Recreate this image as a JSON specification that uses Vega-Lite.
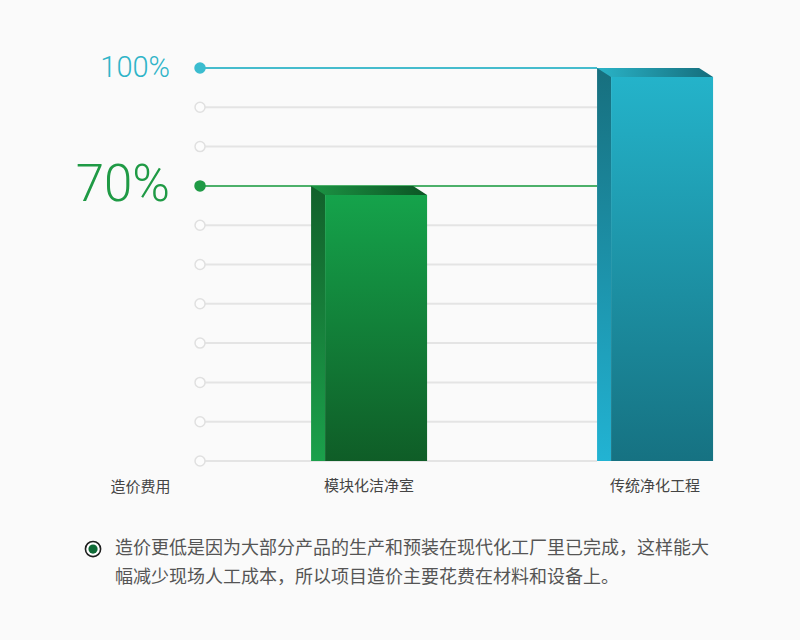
{
  "$schema": "https://vega.github.io/schema/vega-lite/v6.json",
  "autosize": "none",
  "width": 600,
  "height": 393,
  "padding": {"left": 200, "top": 68, "right": 0, "bottom": 179},
  "background": "#fafafa",
  "config": {"view": {"stroke": null}, "font": "Noto Sans CJK SC"},
  "datasets": {
    "bars": [
      {"cat": "模块化洁净室", "v": 70},
      {"cat": "传统净化工程", "v": 100}
    ],
    "ticks": [
      {"v": 0}, {"v": 10}, {"v": 20}, {"v": 30}, {"v": 40}, {"v": 50},
      {"v": 60}, {"v": 70}, {"v": 80}, {"v": 90}, {"v": 100}
    ],
    "labels": [
      {"v": 70, "label": "70%"},
      {"v": 100, "label": "100%"}
    ],
    "note": [
      {"t": "造价更低是因为大部分产品的生产和预装在现代化工厂里已完成，这样能大\n幅减少现场人工成本，所以项目造价主要花费在材料和设备上。"}
    ]
  },
  "encoding": {
    "y": {
      "type": "quantitative",
      "scale": {"domain": [0, 100], "nice": false, "zero": false},
      "axis": {
        "title": "造价费用", "titleAngle": 0, "titleX": -60, "titleY": 418,
        "titleAlign": "center", "titleBaseline": "middle", "titleFontSize": 15,
        "titleFontWeight": "normal", "titleColor": "#444444",
        "labels": false, "ticks": false, "domain": false, "grid": false
      }
    }
  },
  "layer": [
    {
      "data": {"name": "ticks"},
      "mark": {"type": "rule", "strokeWidth": 2},
      "encoding": {
        "x": {"datum": "模块化洁净室", "bandPosition": -0.956, "type": "nominal",
          "scale": {"type": "band", "domain": ["模块化洁净室", "传统净化工程"], "paddingInner": 0.594, "paddingOuter": 0.346, "align": 0.561},
          "axis": {"title": null, "domain": false, "ticks": false, "tickSize": 0, "labelPadding": 17, "labelFontSize": 15, "labelColor": "#444444", "labelAngle": 0, "grid": false}},
        "x2": {"datum": "传统净化工程", "bandPosition": 0},
        "y": {"field": "v"},
        "color": {
          "condition": [
            {"test": "datum.v === 100", "value": "#45bccd"},
            {"test": "datum.v === 70", "value": "#4cb06a"}
          ],
          "value": "#e4e4e4"
        }
      }
    },
    {
      "data": {"name": "ticks"},
      "mark": {"type": "point", "filled": false, "size": 100, "strokeWidth": 1.5, "opacity": 1},
      "encoding": {
        "x": {"datum": "模块化洁净室", "bandPosition": -0.956, "type": "nominal"},
        "y": {"field": "v"},
        "fill": {
          "condition": [
            {"test": "datum.v === 100", "value": "#3bbccf"},
            {"test": "datum.v === 70", "value": "#1f9a45"}
          ],
          "value": "#fcfcfc"
        },
        "stroke": {
          "condition": [
            {"test": "datum.v === 100", "value": "#3bbccf"},
            {"test": "datum.v === 70", "value": "#1f9a45"}
          ],
          "value": "#e0e0e0"
        }
      }
    },
    {
      "data": {"name": "labels"},
      "mark": {"type": "text", "align": "right", "baseline": "middle", "dx": -30, "font": "Roboto", "fontWeight": 300},
      "encoding": {
        "x": {"datum": "模块化洁净室", "bandPosition": -0.956, "type": "nominal"},
        "y": {"field": "v"},
        "text": {"field": "label"},
        "size": {"condition": {"test": "datum.v === 70", "value": 51}, "value": 29},
        "color": {"condition": {"test": "datum.v === 70", "value": "#1f9a45"}, "value": "#2fb4c8"}
      }
    },
    {
      "data": {"name": "bars"},
      "transform": [{"filter": "datum.v === 70"}],
      "layer": [
        {
          "mark": {"type": "bar", "width": 14, "xOffset": -51,
            "fill": {"gradient": "linear", "x1": 0, "y1": 0, "x2": 0, "y2": 1,
              "stops": [{"offset": 0, "color": "#12612b"}, {"offset": 1, "color": "#1ba04b"}]}},
          "encoding": {"x": {"field": "cat", "type": "nominal"}, "y": {"field": "v"}, "y2": {"datum": 0}}
        },
        {
          "mark": {"type": "bar", "width": 102, "xOffset": 7, "yOffset": 9,
            "fill": {"gradient": "linear", "x1": 0, "y1": 0, "x2": 0, "y2": 1,
              "stops": [{"offset": 0, "color": "#15a34b"}, {"offset": 1, "color": "#0f5d27"}]}},
          "encoding": {"x": {"field": "cat", "type": "nominal"}, "y": {"field": "v"}, "y2": {"datum": 0}}
        },
        {
          "mark": {"type": "point", "filled": true, "opacity": 1, "size": 13456, "strokeWidth": 0,
            "shape": "M-1,0L0.759,0L1,0.155L-0.759,0.155Z",
            "fill": {"gradient": "linear", "x1": 0, "y1": 0, "x2": 1, "y2": 0,
              "stops": [{"offset": 0, "color": "#1c9444"}, {"offset": 1, "color": "#0c5524"}]}},
          "encoding": {"x": {"field": "cat", "type": "nominal"}, "y": {"field": "v"}}
        }
      ]
    },
    {
      "data": {"name": "bars"},
      "transform": [{"filter": "datum.v === 100"}],
      "layer": [
        {
          "mark": {"type": "bar", "width": 14, "xOffset": -51,
            "fill": {"gradient": "linear", "x1": 0, "y1": 0, "x2": 0, "y2": 1,
              "stops": [{"offset": 0, "color": "#176f7e"}, {"offset": 1, "color": "#22b3d3"}]}},
          "encoding": {"x": {"field": "cat", "type": "nominal"}, "y": {"field": "v"}, "y2": {"datum": 0}}
        },
        {
          "mark": {"type": "bar", "width": 102, "xOffset": 7, "yOffset": 9,
            "fill": {"gradient": "linear", "x1": 0, "y1": 0, "x2": 0, "y2": 1,
              "stops": [{"offset": 0, "color": "#24b3ca"}, {"offset": 1, "color": "#167282"}]}},
          "encoding": {"x": {"field": "cat", "type": "nominal"}, "y": {"field": "v"}, "y2": {"datum": 0}}
        },
        {
          "mark": {"type": "point", "filled": true, "opacity": 1, "size": 13456, "strokeWidth": 0,
            "shape": "M-1,0L0.759,0L1,0.155L-0.759,0.155Z",
            "fill": {"gradient": "linear", "x1": 0, "y1": 0, "x2": 1, "y2": 0,
              "stops": [{"offset": 0, "color": "#2ab4c8"}, {"offset": 1, "color": "#156d7c"}]}},
          "encoding": {"x": {"field": "cat", "type": "nominal"}, "y": {"field": "v"}}
        }
      ]
    },
    {
      "data": {"name": "note"},
      "layer": [
        {
          "mark": {"type": "point", "filled": true, "opacity": 1, "size": 230, "fill": "#ffffff", "stroke": "#1e1e1e", "strokeWidth": 1.6, "xOffset": -107},
          "encoding": {"x": {"datum": "模块化洁净室", "bandPosition": -0.956, "type": "nominal"}, "y": {"datum": -22.4}}
        },
        {
          "mark": {"type": "point", "filled": true, "opacity": 1, "size": 85, "fill": "#0f6b37", "strokeWidth": 0, "xOffset": -107},
          "encoding": {"x": {"datum": "模块化洁净室", "bandPosition": -0.956, "type": "nominal"}, "y": {"datum": -22.4}}
        },
        {
          "mark": {"type": "text", "align": "left", "baseline": "top", "dx": -85, "fontSize": 18, "lineHeight": 29, "lineBreak": "\n", "color": "#555555"},
          "encoding": {"x": {"datum": "模块化洁净室", "bandPosition": -0.956, "type": "nominal"}, "y": {"datum": -20.0}, "text": {"field": "t"}}
        }
      ]
    }
  ]
}
